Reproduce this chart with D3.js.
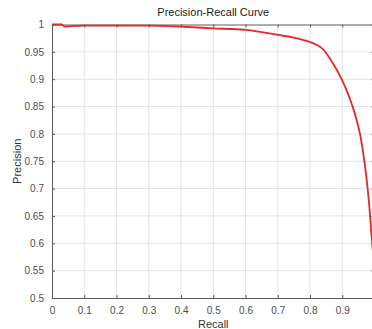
<!DOCTYPE html>
<html>
<head>
<meta charset="utf-8">
<script src="https://cdn.jsdelivr.net/npm/d3@7"></script>
<style>
  body { margin: 0; background: #fff; }
  svg { display: block; font-family: "Liberation Sans", Arial, sans-serif; }
  .grid line { stroke: #e3e3e3; stroke-width: 1; }
</style>
</head>
<body>
<div id="chart"></div>
<script>
// precision-recall curve
var recall    = [0, 0.03, 0.04, 0.06, 0.1, 0.2, 0.3, 0.4, 0.5, 0.6, 0.65, 0.7, 0.75, 0.8, 0.82, 0.84, 0.87, 0.9, 0.92, 0.94, 0.955, 0.965, 0.975, 0.985, 0.99, 0.995];
var precision = [1, 1, 0.996, 0.997, 0.998, 0.998, 0.998, 0.996, 0.993, 0.990, 0.986, 0.981, 0.976, 0.968, 0.963, 0.955, 0.930, 0.898, 0.870, 0.835, 0.800, 0.765, 0.720, 0.660, 0.620, 0.585];
var xTicks = [0, 0.1, 0.2, 0.3, 0.4, 0.5, 0.6, 0.7, 0.8, 0.9, 1];
var yTicks = [0.5, 0.55, 0.6, 0.65, 0.7, 0.75, 0.8, 0.85, 0.9, 0.95, 1];

var W = 372, H = 329;
// plot box (right edge falls just outside the picture, as in the original)
var pL = 52, pR = 374.5, pT = 24.5, pB = 298;
var axisColor = '#5a5a5a';

var svg = d3.select('#chart').append('svg')
  .attr('width', W)
  .attr('height', H);

var x = d3.scaleLinear().domain([0, 1]).range([pL, pR]);
var y = d3.scaleLinear().domain([0.5, 1]).range([pB, pT]);

// grid
svg.append('g').attr('class', 'grid')
  .selectAll('line').data(xTicks.slice(1, -1)).enter()
  .append('line')
    .attr('x1', function(d){ return x(d); })
    .attr('x2', function(d){ return x(d); })
    .attr('y1', pT).attr('y2', pB);
svg.append('g').attr('class', 'grid')
  .selectAll('line').data(yTicks.slice(1, -1)).enter()
  .append('line')
    .attr('y1', function(d){ return y(d); })
    .attr('y2', function(d){ return y(d); })
    .attr('x1', pL).attr('x2', pR);

// axes, ticks point inward like matlab
function styleAxis(g){
  g.select('.domain').attr('stroke', axisColor);
  g.selectAll('.tick line').attr('stroke', axisColor);
}
var fmt = function(d){ return String(+d.toFixed(2)); };

svg.append('g')
  .attr('transform', 'translate(0,' + pB + ')')
  .call(d3.axisBottom(x).tickValues(xTicks.slice(0, -1)).tickFormat(fmt).tickSizeInner(-3).tickSizeOuter(0).tickPadding(9))
  .call(styleAxis);
svg.append('g')
  .attr('transform', 'translate(0,' + pT + ')')
  .call(d3.axisTop(x).tickValues(xTicks).tickFormat('').tickSizeInner(-3).tickSizeOuter(0))
  .call(styleAxis);
svg.append('g')
  .attr('transform', 'translate(' + pL + ',0)')
  .call(d3.axisLeft(y).tickValues(yTicks).tickFormat(fmt).tickSizeInner(-3).tickSizeOuter(0).tickPadding(8))
  .call(styleAxis);
svg.append('g')
  .attr('transform', 'translate(' + pR + ',0)')
  .call(d3.axisRight(y).tickValues(yTicks).tickFormat('').tickSizeInner(-3).tickSizeOuter(0))
  .call(styleAxis);

svg.selectAll('.tick text')
  .attr('fill', '#4d4d4d')
  .style('font-family', '"Liberation Sans", Arial, sans-serif')
  .style('font-size', '10px');

// curve
svg.append('clipPath').attr('id', 'plotclip')
  .append('rect').attr('x', pL).attr('y', pT - 2)
  .attr('width', pR - pL).attr('height', pB - pT + 2);

var pts = recall.map(function(r, i){ return [r, precision[i]]; });
var line = d3.line()
  .x(function(d){ return x(d[0]); })
  .y(function(d){ return y(d[1]); })
  .curve(d3.curveMonotoneX);

svg.append('path')
  .datum(pts)
  .attr('clip-path', 'url(#plotclip)')
  .attr('fill', 'none')
  .attr('stroke', '#e8262a')
  .attr('stroke-width', 1.8)
  .attr('d', line);

// labels
svg.append('text')
  .attr('x', (pL + pR) / 2).attr('y', 16)
  .attr('text-anchor', 'middle')
  .attr('fill', '#1a1a1a')
  .style('font-size', '11px')
  .text('Precision-Recall Curve');
svg.append('text')
  .attr('x', (pL + pR) / 2).attr('y', 328)
  .attr('text-anchor', 'middle')
  .attr('fill', '#333')
  .style('font-size', '11px')
  .text('Recall');
svg.append('text')
  .attr('transform', 'translate(21,' + ((pT + pB) / 2) + ') rotate(-90)')
  .attr('text-anchor', 'middle')
  .attr('fill', '#333')
  .style('font-size', '11px')
  .text('Precision');
</script>
</body>
</html>
